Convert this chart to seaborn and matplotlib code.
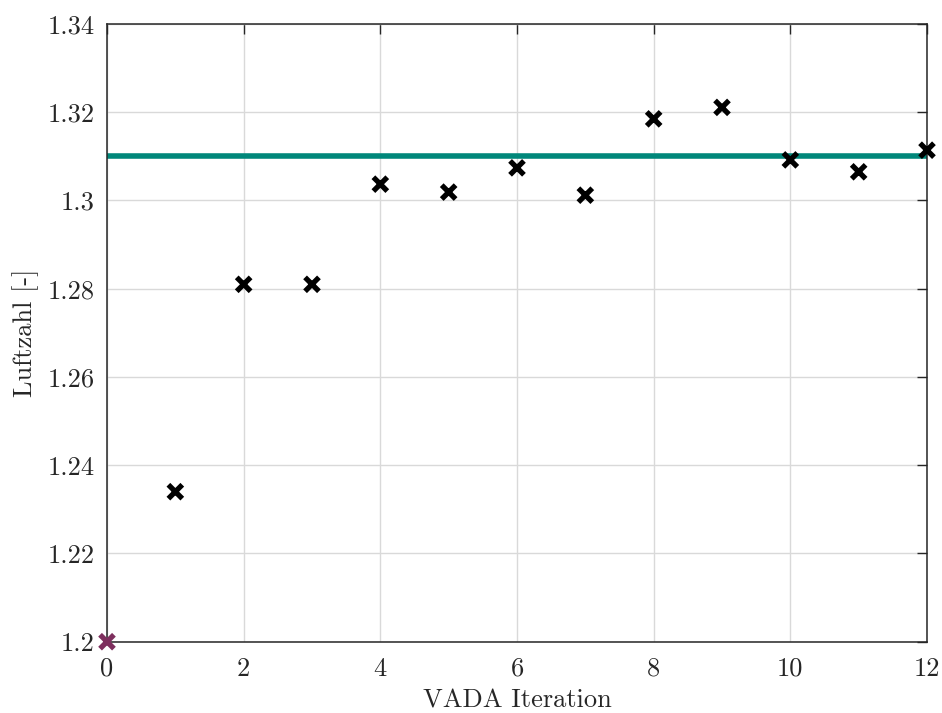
import matplotlib
matplotlib.use("Agg")
import matplotlib.pyplot as plt
import seaborn as sns
import pandas as pd

iterations = [0, 1, 2, 3, 4, 5, 6, 7, 8, 9, 10, 11, 12]
luftzahl = [1.2, 1.234, 1.281, 1.281, 1.3037, 1.3019, 1.3074, 1.3012,
            1.3185, 1.3211, 1.3092, 1.3065, 1.3114]
target = 1.31
xticks = [0, 2, 4, 6, 8, 10, 12]
yticks = [1.2, 1.22, 1.24, 1.26, 1.28, 1.3, 1.32, 1.34]
ytick_labels = ["1.2", "1.22", "1.24", "1.26", "1.28", "1.3", "1.32", "1.34"]

sns.set_theme(style="white")
plt.rcParams["font.family"] = ["cmr10", "DejaVu Serif"]
plt.rcParams["mathtext.fontset"] = "cm"
plt.rcParams["axes.unicode_minus"] = False

df = pd.DataFrame({"it": iterations, "lam": luftzahl})
df["grp"] = ["start"] + ["iter"] * (len(iterations) - 1)

fig = plt.figure(figsize=(9.42, 7.13), dpi=100)
ax = fig.add_axes([107 / 942, 1 - 641.7 / 713, 820 / 942, 617.7 / 713])

ax.axhline(target, color="#00877A", lw=4, zorder=2)
sns.scatterplot(data=df, x="it", y="lam", hue="grp",
                palette={"start": "#7E2F5E", "iter": "black"},
                marker="x", s=100, linewidth=3.8, legend=False, ax=ax,
                zorder=3, clip_on=False)

ax.set_xlim(0, 12)
ax.set_ylim(1.2, 1.34)
ax.set_xticks(xticks)
ax.set_xticklabels([str(t) for t in xticks])
ax.set_yticks(yticks)
ax.set_yticklabels(ytick_labels)
ax.grid(True, color="#d9d9d9", lw=1)
ax.set_axisbelow(True)
for s in ax.spines.values():
    s.set_color("#262626")
    s.set_linewidth(1.1)
ax.tick_params(direction="in", length=7, width=1, color="#262626",
               labelsize=19, labelcolor="#262626", top=True, right=True)
ax.tick_params(axis="x", pad=11)
ax.tick_params(axis="y", pad=9)
ax.set_xlabel("VADA Iteration", fontsize=19, color="#262626", labelpad=6)
ax.set_ylabel("Luftzahl [-]", fontsize=19, color="#262626", labelpad=6)

fig.savefig("out.png", dpi=100)
